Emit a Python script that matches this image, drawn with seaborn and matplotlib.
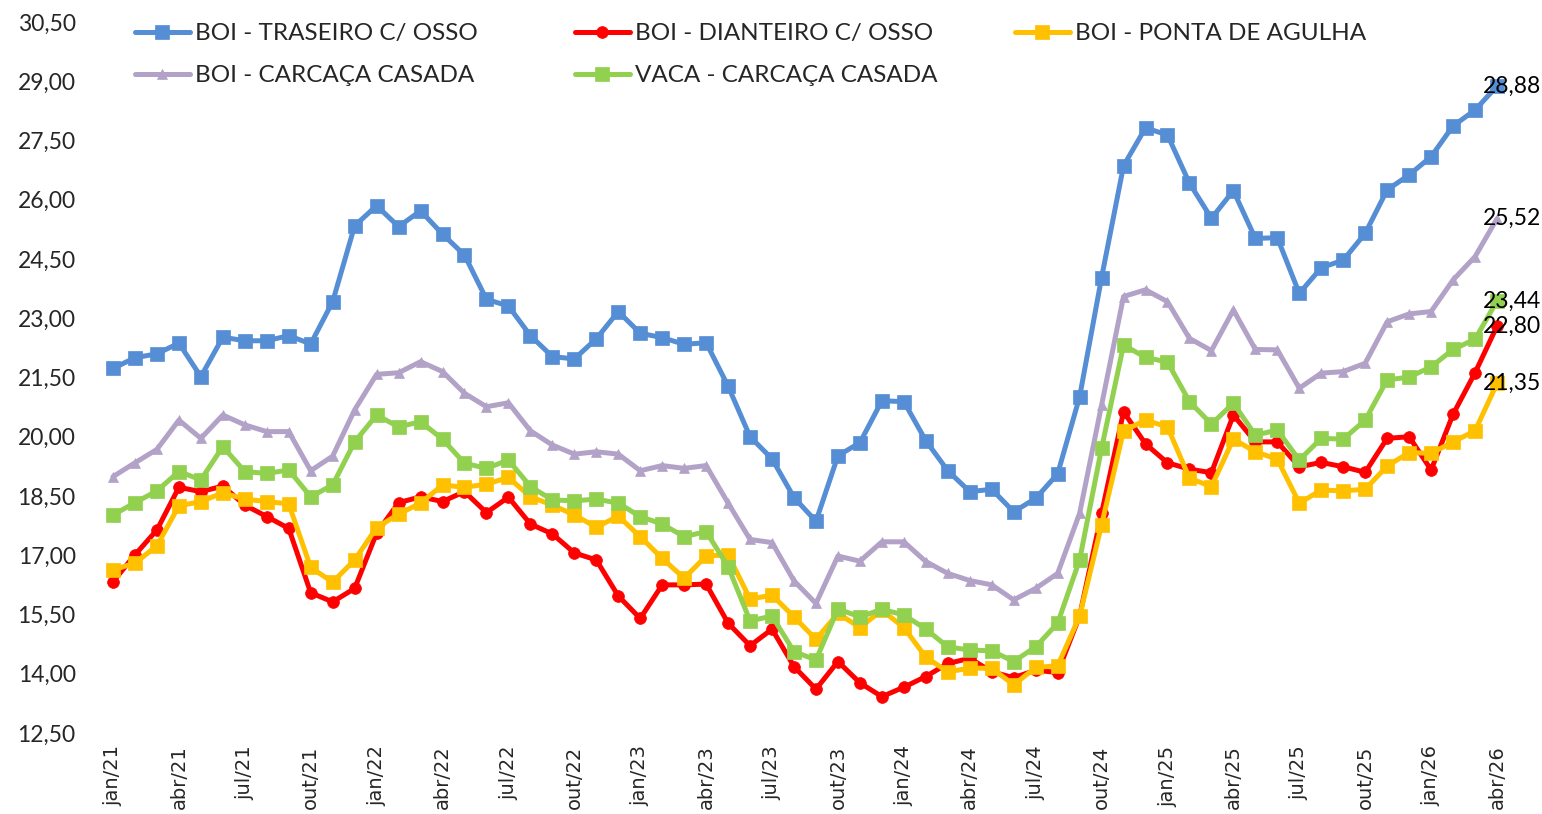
"""
Preço médio mensal dos cortes bovinos — jan/21 a abr/26.
"""
import numpy as np
import pandas as pd
import matplotlib
matplotlib.use("Agg")
import matplotlib.pyplot as plt
import seaborn as sns

MESES = ["jan", "fev", "mar", "abr", "mai", "jun",
         "jul", "ago", "set", "out", "nov", "dez"]
ANOS = [21, 22, 23, 24, 25, 26]

traseiro = [21.73, 22.00, 22.10, 22.37, 21.52, 22.52, 22.43, 22.43, 22.56, 22.35,
            23.42, 25.34, 25.85, 25.32, 25.72, 25.13, 24.60, 23.48, 23.31, 22.56,
            22.03, 21.97, 22.48, 23.17, 22.62, 22.51, 22.34, 22.38, 21.28, 20.00,
            19.44, 18.46, 17.86, 19.52, 19.85, 20.91, 20.89, 19.90, 19.14, 18.61,
            18.67, 18.10, 18.44, 19.06, 21.01, 24.03, 26.86, 27.82, 27.64, 26.42,
            25.53, 26.23, 25.02, 25.04, 23.63, 24.28, 24.47, 25.15, 26.25, 26.63,
            27.09, 27.87, 28.27, 28.88]

dianteiro = [16.33, 17.01, 17.64, 18.72, 18.61, 18.75, 18.27, 17.98, 17.68, 16.05,
             15.82, 16.16, 17.56, 18.33, 18.48, 18.36, 18.61, 18.08, 18.47, 17.79,
             17.54, 17.06, 16.88, 15.97, 15.40, 16.25, 16.25, 16.27, 15.28, 14.71,
             15.13, 14.18, 13.61, 14.31, 13.77, 13.42, 13.66, 13.93, 14.26, 14.39,
             14.05, 13.90, 14.09, 14.03, 15.46, 18.06, 20.63, 19.82, 19.34, 19.18,
             19.09, 20.55, 19.87, 19.87, 19.24, 19.35, 19.24, 19.10, 19.96, 20.00,
             19.16, 20.57, 21.62, 22.80]

ponta_agulha = [16.63, 16.80, 17.24, 18.25, 18.36, 18.58, 18.42, 18.36, 18.30, 16.69,
                16.32, 16.88, 17.70, 18.04, 18.32, 18.78, 18.72, 18.80, 18.97, 18.48,
                18.27, 18.02, 17.71, 17.99, 17.47, 16.92, 16.42, 16.98, 17.01, 15.89,
                15.99, 15.44, 14.87, 15.53, 15.17, 15.61, 15.17, 14.42, 14.05, 14.14,
                14.14, 13.72, 14.16, 14.20, 15.46, 17.77, 20.15, 20.42, 20.25, 18.95,
                18.74, 19.94, 19.62, 19.43, 18.32, 18.65, 18.63, 18.67, 19.26, 19.60,
                19.58, 19.87, 20.15, 21.35]

carcaca_boi = [18.99, 19.34, 19.68, 20.42, 19.96, 20.55, 20.30, 20.13, 20.13, 19.14,
               19.51, 20.68, 21.58, 21.62, 21.90, 21.65, 21.10, 20.76, 20.86, 20.15,
               19.79, 19.56, 19.62, 19.56, 19.14, 19.27, 19.20, 19.27, 18.32, 17.40,
               17.32, 16.35, 15.78, 16.98, 16.85, 17.34, 17.34, 16.84, 16.54, 16.36,
               16.25, 15.87, 16.16, 16.54, 18.06, 20.80, 23.55, 23.72, 23.42, 22.49,
               22.18, 23.21, 22.21, 22.20, 21.23, 21.61, 21.65, 21.86, 22.91, 23.11,
               23.17, 23.97, 24.56, 25.52]

carcaca_vaca = [18.02, 18.33, 18.63, 19.12, 18.91, 19.75, 19.12, 19.07, 19.16, 18.48,
                18.78, 19.87, 20.55, 20.25, 20.38, 19.94, 19.33, 19.20, 19.41, 18.74,
                18.40, 18.38, 18.42, 18.32, 17.98, 17.79, 17.47, 17.60, 16.71, 15.34,
                15.46, 14.56, 14.35, 15.64, 15.44, 15.63, 15.49, 15.13, 14.68, 14.60,
                14.58, 14.31, 14.68, 15.28, 16.88, 19.71, 22.32, 22.01, 21.89, 20.89,
                20.32, 20.85, 20.04, 20.17, 19.41, 19.96, 19.94, 20.42, 21.44, 21.51,
                21.77, 22.21, 22.47, 23.44]

NOMES = ["BOI - TRASEIRO C/ OSSO", "BOI - DIANTEIRO C/ OSSO", "BOI - PONTA DE AGULHA",
         "BOI - CARCAÇA CASADA", "VACA - CARCAÇA CASADA"]
VALORES = [traseiro, dianteiro, ponta_agulha, carcaca_boi, carcaca_vaca]
CORES = ["#558ED5", "#FF0000", "#FFC000", "#B3A2C7", "#92D050"]
MARCAS = ["s", "o", "s", "^", "s"]
TAM_MARCA = [9.5, 8.5, 9.5, 7.0, 9.5]

rotulos = [f"{m}/{a}" for a in ANOS for m in MESES][:len(traseiro)]
x = np.arange(len(rotulos))

df = pd.DataFrame({"mes": x})
for nome, vals in zip(NOMES, VALORES):
    df[nome] = vals

sns.set_style("white")
plt.rcParams["font.family"] = ["Lato", "DejaVu Sans"]

W, H = 1542, 814
fig = plt.figure(figsize=(W / 100, H / 100), dpi=100)
ax = fig.add_axes([102 / W, 1 - 733 / H, (1508 - 102) / W, (733 - 22) / H])

for nome, cor, mk, ms in zip(NOMES, CORES, MARCAS, TAM_MARCA):
    sns.lineplot(data=df, x="mes", y=nome, ax=ax, color=cor, marker=mk,
                 markersize=ms, markeredgecolor=cor, markeredgewidth=0.5,
                 linewidth=3.6, legend=False)

# rótulo só no último ponto de cada série
for nome, vals in zip(NOMES, VALORES):
    ax.annotate(f"{vals[-1]:.2f}".replace(".", ","), xy=(x[-1], vals[-1]),
                xytext=(-14, 0), textcoords="offset pixels",
                ha="left", va="center", fontsize=16.5, color="black",
                annotation_clip=False)

ax.set_xlim(-0.5, len(x) - 0.5)
ax.set_ylim(12.5, 30.5)
yt = np.arange(12.5, 30.51, 1.5)
ax.set_yticks(yt)
ax.set_yticklabels([f"{v:.2f}".replace(".", ",") for v in yt], fontsize=16.5)
ax.set_xticks(x[::3])
ax.set_xticklabels(rotulos[::3], rotation=90, fontsize=14,
                   family=["DejaVu Sans"])
ax.tick_params(axis="y", length=0, pad=19)
ax.tick_params(axis="x", length=0, pad=9)
ax.set_xlabel("")
ax.set_ylabel("")
for s in ax.spines.values():
    s.set_visible(False)

# legenda em 3 colunas de largura fixa, como no original
linhas = ax.get_lines()
colunas = [([0, 3], 135), ([1, 4], 575), ([2], 1015)]
for idx, px in colunas:
    fig.legend([linhas[i] for i in idx], [NOMES[i] for i in idx],
               loc="upper left", bbox_to_anchor=(px / W, 1 - 23 / H),
               frameon=False, fontsize=17.5, borderpad=0, borderaxespad=0,
               handlelength=2.26, handletextpad=0.2, labelspacing=0.87)

fig.savefig("out.png", dpi=100)
